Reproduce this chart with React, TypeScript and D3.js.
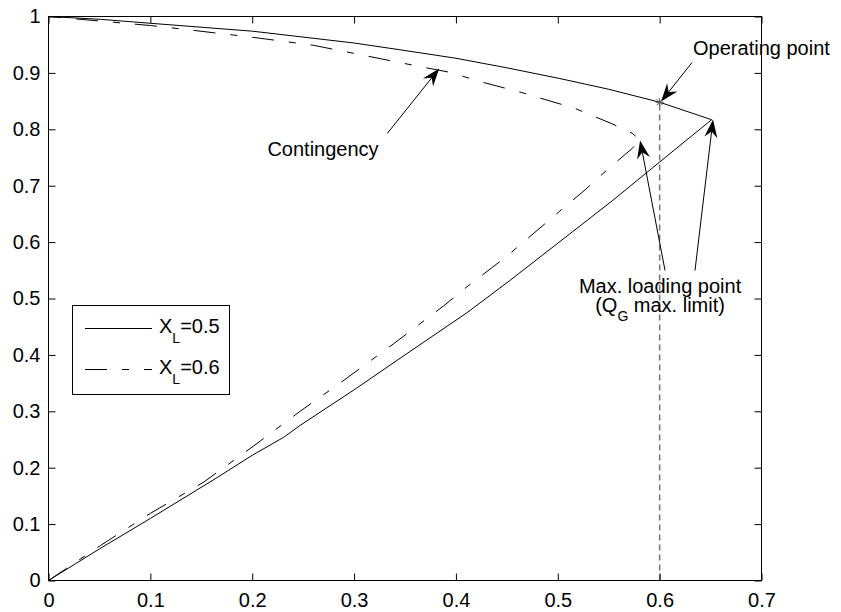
import React, { useEffect, useRef } from 'react'
import * as d3 from 'd3'

// X_L = 0.5 (solid): lower branch up to the nose, then upper branch back to (0, 1)
const solidX = [0, 0.05, 0.1, 0.166, 0.2, 0.231, 0.247, 0.3, 0.35, 0.411, 0.453, 0.5, 0.554, 0.6, 0.651,
  0.6, 0.55, 0.502, 0.45, 0.4, 0.345, 0.3, 0.2, 0.1, 0.051, 0]
const solidY = [0, 0.056, 0.11, 0.183, 0.222, 0.254, 0.275, 0.338, 0.4, 0.475, 0.532, 0.598, 0.674, 0.742, 0.817,
  0.848, 0.871, 0.89, 0.909, 0.926, 0.941, 0.953, 0.974, 0.988, 0.995, 1]

// X_L = 0.6 (dash-dot)
const dashX = [0, 0.051, 0.1, 0.152, 0.201, 0.247, 0.29, 0.339, 0.388, 0.411, 0.45, 0.502, 0.527, 0.549, 0.573, 0.581,
  0.573, 0.553, 0.517, 0.463, 0.427, 0.394, 0.34, 0.31, 0.26, 0.201, 0.13, 0.1, 0.05, 0]
const dashY = [0, 0.062, 0.119, 0.174, 0.238, 0.3, 0.355, 0.42, 0.487, 0.521, 0.575, 0.655, 0.693, 0.729, 0.766, 0.781,
  0.793, 0.81, 0.837, 0.866, 0.883, 0.901, 0.92, 0.931, 0.949, 0.963, 0.978, 0.984, 0.992, 1]

const xTicks = [0, 0.1, 0.2, 0.3, 0.4, 0.5, 0.6, 0.7]
const yTicks = [0, 0.1, 0.2, 0.3, 0.4, 0.5, 0.6, 0.7, 0.8, 0.9, 1]

const operatingPoint = [0.6, 0.848]

// arrows: [tailX, tailY, tipX, tipY]
const arrows = [
  [0.3326, 0.7926, 0.3836, 0.9078],
  [0.6318, 0.9184, 0.6014, 0.8493],
  [0.6053, 0.5496, 0.5808, 0.7801],
  [0.6347, 0.5496, 0.6524, 0.8174],
]

const W = 841
const H = 612
const FONT = '"Liberation Sans", Arial, Helvetica, sans-serif'

const App = () => {
  const ref = useRef<SVGSVGElement>(null)

  useEffect(() => {
    const root = d3.select(ref.current)
    root.selectAll('*').remove()

    const x = d3.scaleLinear().domain([0, 0.7]).range([48.5, 761.5])
    const y = d3.scaleLinear().domain([0, 1]).range([580.5, 16.5])

    const svg = root.append('g')

    const line = d3.line<number[]>().x(d => x(d[0])).y(d => y(d[1]))

    // curves
    svg.append('path')
      .attr('d', line(solidX.map((v, i) => [v, solidY[i]])))
      .attr('fill', 'none').attr('stroke', '#000').attr('stroke-width', 1)

    svg.append('path')
      .attr('d', line(dashX.map((v, i) => [v, dashY[i]])))
      .attr('fill', 'none').attr('stroke', '#000').attr('stroke-width', 1)
      .attr('stroke-dasharray', '22,15,7,15')

    // operating point guide line and marker
    svg.append('line')
      .attr('x1', x(operatingPoint[0])).attr('x2', x(operatingPoint[0]))
      .attr('y1', y(0)).attr('y2', y(operatingPoint[1]))
      .attr('stroke', '#777').attr('stroke-width', 1.5).attr('stroke-dasharray', '6,4')

    const ox = x(operatingPoint[0])
    const oy = y(operatingPoint[1])
    const m = svg.append('g').attr('stroke', '#555').attr('stroke-width', 1)
    m.append('line').attr('x1', ox - 4).attr('x2', ox + 4).attr('y1', oy).attr('y2', oy)
    m.append('line').attr('x1', ox).attr('x2', ox).attr('y1', oy - 4).attr('y2', oy + 4)
    m.append('line').attr('x1', ox - 3).attr('x2', ox + 3).attr('y1', oy - 3).attr('y2', oy + 3)
    m.append('line').attr('x1', ox - 3).attr('x2', ox + 3).attr('y1', oy + 3).attr('y2', oy - 3)

    // axes (ticks pointing in)
    const gx = svg.append('g').attr('transform', `translate(0,${y(0)})`)
      .call(d3.axisBottom(x).tickValues(xTicks).tickSize(-7).tickPadding(12).tickFormat(d => String(d)))
    const gy = svg.append('g').attr('transform', `translate(${x(0)},0)`)
      .call(d3.axisLeft(y).tickValues(yTicks).tickSize(-7).tickPadding(8).tickFormat(d => String(d)))
    const gt = svg.append('g').attr('transform', `translate(0,${y(1)})`)
      .call(d3.axisTop(x).tickValues(xTicks).tickSize(-7).tickFormat(() => ''))
    const gr = svg.append('g').attr('transform', `translate(${x(0.7)},0)`)
      .call(d3.axisRight(y).tickValues(yTicks).tickSize(-7).tickFormat(() => ''))
    ;[gx, gy, gt, gr].forEach(g => {
      g.select('.domain').remove()
      g.selectAll('line').attr('stroke', '#000')
      g.selectAll('text').attr('font-family', FONT).attr('font-size', 20).attr('fill', '#000')
    })

    svg.append('rect')
      .attr('x', x(0)).attr('y', y(1))
      .attr('width', x(0.7) - x(0)).attr('height', y(0) - y(1))
      .attr('fill', 'none').attr('stroke', '#000').attr('stroke-width', 1)

    // arrows
    arrows.forEach(([x1, y1, x2, y2]) => {
      const ax = x(x1), ay = y(y1), bx = x(x2), by = y(y2)
      const ang = Math.atan2(by - ay, bx - ax)
      const len = 18, half = 6.5, notch = 12
      const ux = Math.cos(ang), uy = Math.sin(ang)
      const px = -uy, py = ux
      svg.append('line')
        .attr('x1', ax).attr('y1', ay).attr('x2', bx - ux * notch).attr('y2', by - uy * notch)
        .attr('stroke', '#000').attr('stroke-width', 1)
      const pts = [
        [bx, by],
        [bx - ux * len + px * half, by - uy * len + py * half],
        [bx - ux * notch, by - uy * notch],
        [bx - ux * len - px * half, by - uy * len - py * half],
      ]
      svg.append('path').attr('d', 'M' + pts.map(p => p.join(',')).join('L') + 'Z').attr('fill', '#000')
    })

    // annotation text
    const txt = (tx: number, ty: number, s: string, anchor = 'start') =>
      svg.append('text').attr('x', tx).attr('y', ty).attr('font-family', FONT).attr('font-size', 20)
        .attr('text-anchor', anchor).attr('fill', '#000').text(s)

    txt(x(0.6328), y(0.9309), 'Operating point')
    txt(x(0.2149), y(0.7535), 'Contingency')
    txt(x(0.6004), y(0.5106), 'Max. loading point', 'middle')
    const t2 = svg.append('text').attr('x', x(0.6004)).attr('y', y(0.4752)).attr('font-family', FONT)
      .attr('font-size', 20).attr('text-anchor', 'middle').attr('fill', '#000')
    t2.append('tspan').text('(Q')
    t2.append('tspan').attr('font-size', 14).attr('dy', 9).text('G')
    t2.append('tspan').attr('dy', -9).text(' max. limit)')

    // legend
    const lg = svg.append('g')
    lg.append('rect').attr('x', 72.5).attr('y', 305.5).attr('width', 157).attr('height', 89)
      .attr('fill', '#fff').attr('stroke', '#000').attr('stroke-width', 1)
    const rows = [
      { label: '0.5', dash: null },
      { label: '0.6', dash: '22,15,7,15' },
    ]
    rows.forEach((r, i) => {
      const ly = 328.5 + i * 41
      const l = lg.append('line').attr('x1', 85).attr('x2', 152).attr('y1', ly).attr('y2', ly)
        .attr('stroke', '#000').attr('stroke-width', 1)
      if (r.dash) l.attr('stroke-dasharray', r.dash)
      const t = lg.append('text').attr('x', 159).attr('y', ly + 4).attr('font-family', FONT)
        .attr('font-size', 20).attr('fill', '#000')
      t.append('tspan').text('X')
      t.append('tspan').attr('font-size', 14).attr('dy', 10).text('L')
      t.append('tspan').attr('dy', -10).text('=' + r.label)
    })
  }, [])

  return (
    <svg ref={ref} width={W} height={H} style={{ position: 'absolute', left: 0, top: 0, background: '#fff' }} />
  )
}

export default App
